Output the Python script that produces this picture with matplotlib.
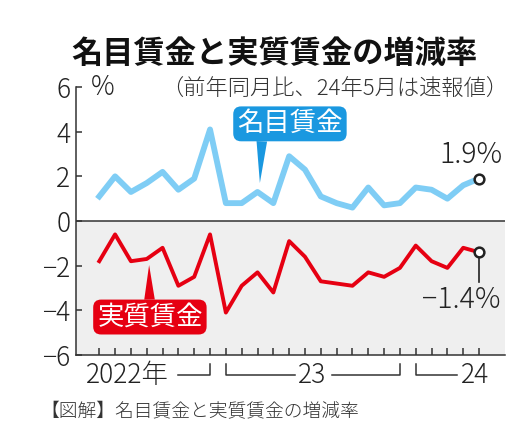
import matplotlib
matplotlib.use("Agg")
import matplotlib.pyplot as plt

plt.rcParams['font.family'] = ['Noto Sans CJK JP', 'DejaVu Sans']
plt.rcParams['font.weight'] = 'light'
plt.rcParams['axes.unicode_minus'] = False

# monthly, May 2022 - May 2024 (year-on-year %)
months = list(range(25))
nominal = [1.1, 2.0, 1.3, 1.7, 2.2, 1.4, 1.9, 4.1, 0.8, 0.8, 1.3, 0.8, 2.9, 2.3,
           1.1, 0.8, 0.6, 1.5, 0.7, 0.8, 1.5, 1.4, 1.0, 1.6, 1.9]
real = [-1.8, -0.6, -1.8, -1.7, -1.2, -2.9, -2.5, -0.6, -4.1, -2.9, -2.3, -3.2, -0.9,
        -1.6, -2.7, -2.8, -2.9, -2.3, -2.5, -2.1, -1.1, -1.8, -2.1, -1.2, -1.4]
yticks = [-6, -4, -2, 0, 2, 4, 6]
ylabels = ['\u22126', '\u22124', '\u22122', '0', '2', '4', '6']

blue_line = '#7fcdf5'
blue_box = '#1a98e0'
red = '#e60012'
dark = '#333333'

fig = plt.figure(figsize=(5.28, 4.38), dpi=100)
ax = fig.add_axes([76/528, 1-355/438, 429/528, 268/438])

ax.axhspan(-6, 0, color='#efefef', zorder=0, lw=0)
ax.axhline(0, color=dark, lw=1.1, zorder=1)

ax.plot(months, nominal, color=blue_line, lw=4.2, zorder=3)
ax.plot(months, real, color=red, lw=2.8, zorder=3)

# end point markers
ax.plot([months[-1]], [nominal[-1]], 'o', ms=7, mfc='white', mec='#222222', mew=1.8, zorder=6)
ax.plot([months[-1], months[-1]], [real[-1], -2.73], color='#222222', lw=1.2, zorder=5)
ax.plot([months[-1]], [real[-1]], 'o', ms=7, mfc='white', mec='#222222', mew=1.8, zorder=6)
ax.text(23.5, 2.96, f'{nominal[-1]}%', fontsize=20.5, ha='center', va='center', color='#222222')
ax.text(22.9, -3.54, f'{real[-1]}%'.replace('-', '\u2212'), fontsize=20.5,
        ha='center', va='center', color='#222222')

# series labels
ax.annotate('名目賃金', xy=(10.15, 1.7), xytext=(12.05, 4.35), color='white', fontsize=19,
            fontweight='normal', ha='center', va='center', zorder=7,
            bbox=dict(boxstyle='round,pad=0.15,rounding_size=0.3', fc=blue_box, ec='none'),
            arrowprops=dict(arrowstyle='wedge,tail_width=0.4', fc=blue_box, ec='none',
                            shrinkA=0, shrinkB=0, relpos=(0.235, 0.0)))
ax.annotate('実質賃金', xy=(3.15, -1.97), xytext=(3.2, -4.3), color='white', fontsize=19,
            fontweight='normal', ha='center', va='center', zorder=7,
            bbox=dict(boxstyle='round,pad=0.15,rounding_size=0.3', fc=red, ec='none'),
            arrowprops=dict(arrowstyle='wedge,tail_width=0.4', fc=red, ec='none',
                            shrinkA=0, shrinkB=0, relpos=(0.5, 0.0)))

ax.set_xlim(-1.47, 25.64)
ax.set_ylim(-6, 6)
ax.set_yticks(yticks)
ax.set_yticklabels(ylabels, fontsize=19, color='#222222')
ax.set_xticks(months)
ax.set_xticklabels([])
ax.tick_params(axis='y', direction='in', length=4, width=1.1, color=dark, pad=4)
ax.tick_params(axis='x', direction='in', length=5, width=1.1, color=dark)
for s in ['top', 'right']:
    ax.spines[s].set_visible(False)
for s in ['left', 'bottom']:
    ax.spines[s].set_color(dark)
    ax.spines[s].set_linewidth(1.1)

ax.text(-0.5, 6, '%', fontsize=19, ha='left', va='center', color='#222222')

# year brackets under the axis
ly = -6.9
bk = dict(color=dark, lw=1.1, clip_on=False)
ax.text(1.78, ly, '2022年', fontsize=19, ha='center', va='center', color='#222222')
ax.plot([4.98, 7, 7], [ly, ly, -6.4], **bk)
ax.plot([8, 8, 12.36], [-6.4, ly, ly], **bk)
ax.text(13.45, ly, '23', fontsize=19, ha='center', va='center', color='#222222')
ax.plot([14.7, 19, 19], [ly, ly, -6.4], **bk)
ax.plot([20, 20, 22.6], [-6.4, ly, ly], **bk)
ax.text(23.75, ly, '24', fontsize=19, ha='center', va='center', color='#222222')

fig.text(274/528, 1-54/438, '名目賃金と実質賃金の増減率', fontsize=22.5, fontweight='bold',
         ha='center', va='center', color='#111111')
fig.text(335/528, 1-90/438, '（前年同月比、24年5月は速報値）', fontsize=16,
         ha='center', va='center', color='#333333')
fig.text(40/528, 1-412/438, '【図解】名目賃金と実質賃金の増減率', fontsize=13.5,
         ha='left', va='center', color='#333333')

fig.savefig('out.png', dpi=100)
